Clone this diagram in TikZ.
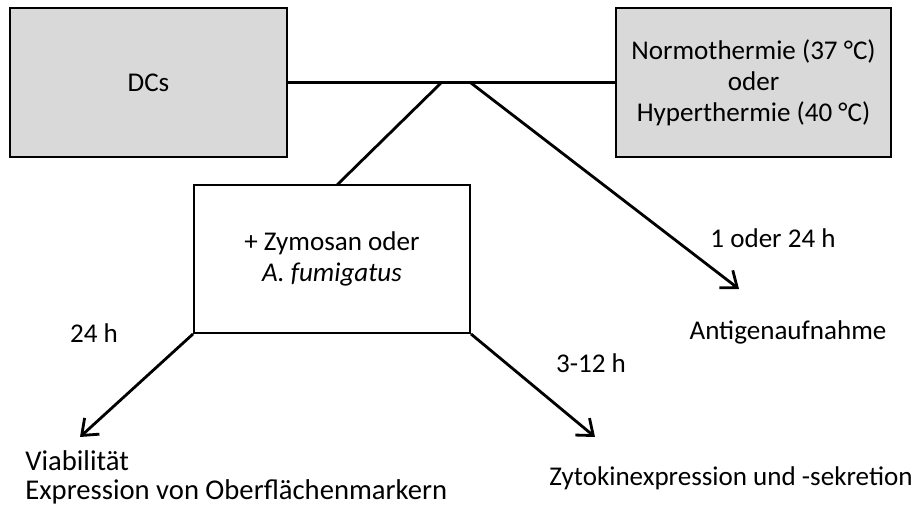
\documentclass[tikz,border=0pt]{standalone}
\usepackage{fontspec}
\setmainfont{Carlito}
\usetikzlibrary{arrows.meta}

\tikzset{
  graybox/.style={draw, line width=1.1pt, fill=gray!30, minimum width=5.54cm, minimum height=2.98cm, align=center},
  whitebox/.style={draw, line width=1.1pt, fill=white, minimum width=5.52cm, minimum height=2.96cm, align=center},
  link/.style={line width=1.6pt},
  outarrow/.style={line width=1.6pt, -{Straight Barb[length=2.8mm, width=4.4mm]}},
  lbl/.style={inner sep=0pt, align=left}
}

\begin{document}
\begin{tikzpicture}[font=\fontsize{15.4}{17.6}\selectfont]
    \useasboundingbox (0, 0) rectangle (18.32, -10.26);

    \node [graybox] (dcs) at (2.97, -1.65) {DCs};
    \node [graybox, minimum width=5.5cm] (temp) at (15.07, -1.65) {Normothermie (37 °C)\\oder\\Hyperthermie (40 °C)};
    \node [whitebox] (zym) at (6.64, -5.18) {+ Zymosan oder\\\textit{A. fumigatus}};

    \coordinate (j1) at (8.82, -1.66);
    \coordinate (j2) at (9.42, -1.66);
    \coordinate (zt) at (6.74, -3.7);
    \coordinate (antend) at (14.78, -5.78);
    \coordinate (viaend) at (1.6, -8.74);
    \coordinate (zytend) at (11.9, -8.74);

    \draw [link] (dcs.east) -- (temp.west);
    \draw [link] (j1) -- (zt);
    \draw [outarrow] (j2) -- (antend);
    \draw [outarrow] (zym.south west) -- (viaend);
    \draw [outarrow] (zym.south east) -- (zytend);

    \node [lbl] (t1) at (15.46, -4.76) {1 oder 24 h};
    \node [lbl] (t2) at (1.88, -6.66) {24 h};
    \node [lbl] (t3) at (11.82, -7.26) {3-12 h};

    \node [lbl] (ant) at (15.76, -6.64) {Antigenaufnahme};
    % these two lines are set a little larger in the original
    \node [lbl, anchor=west, font=\fontsize{16.3}{17.6}\selectfont] (via) at (0.5, -9.22) {Viabilität};
    \node [lbl, anchor=west, font=\fontsize{16.3}{17.6}\selectfont] (ober) at (0.5, -9.84) {Expression von Oberflächenmarkern};
    \node [lbl] (zyt) at (14.62, -9.56) {Zytokinexpression und -sekretion};
\end{tikzpicture}
\end{document}
